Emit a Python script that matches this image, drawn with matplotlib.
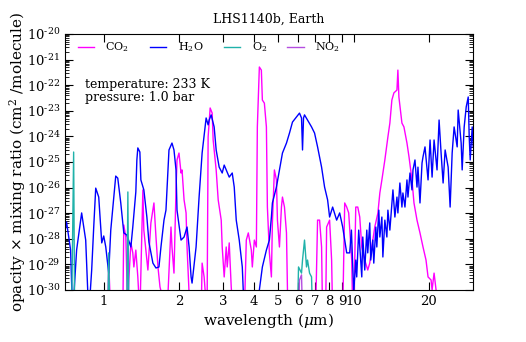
import matplotlib
matplotlib.use('Agg')
import matplotlib.pyplot as plt
import numpy as np
from matplotlib.ticker import LogLocator, FixedLocator, FixedFormatter, NullLocator, FuncFormatter

plt.rcParams['font.family'] = 'DejaVu Serif'
plt.rcParams['mathtext.fontset'] = 'dejavuserif'

# values: wavelength (micron), log10 of opacity x mixing ratio
h2o_wl = [0.691, 0.710, 0.737, 0.751, 0.779, 0.816, 0.847, 0.871, 0.895, 0.912,
          0.929, 0.955, 0.982, 1.000, 1.019, 1.047, 1.067, 1.117, 1.138, 1.170,
          1.203, 1.237, 1.284, 1.307, 1.344, 1.357, 1.369, 1.395, 1.408, 1.447,
          1.488, 1.516, 1.573, 1.618, 1.663, 1.694, 1.742, 1.774, 1.824, 1.875,
          1.910, 1.946, 1.964, 2.038, 2.096, 2.154, 2.195, 2.236, 2.256, 2.341,
          2.407, 2.475, 2.568, 2.616, 2.641, 2.690, 2.765, 2.817, 2.896, 2.978,
          3.033, 3.090, 3.177, 3.266, 3.327, 3.389, 3.484, 3.583, 3.650, 4.116,
          4.193, 4.311, 4.474, 4.599, 4.685, 4.728, 4.907, 5.045, 5.187, 5.383,
          5.534, 5.689, 5.903, 6.069, 6.183, 6.240, 6.298, 6.356, 6.535, 6.781,
          6.972, 7.168, 7.437, 7.646, 7.862, 8.008, 8.235, 8.545, 8.786, 9.034,
          9.374, 9.637, 9.790, 10.00, 10.19, 10.28, 10.47, 10.64, 10.77, 10.87,
          11.07, 11.28, 11.38, 11.59, 11.70, 11.92, 12.03, 12.26, 12.37, 12.60,
          12.72, 12.96, 13.08, 13.32, 13.57, 13.70, 13.95, 14.21, 14.35, 14.61,
          14.89, 15.02, 15.30, 15.59, 15.73, 16.03, 16.33, 16.48, 16.79, 17.10,
          17.26, 17.58, 17.91, 18.07, 18.41, 18.76, 18.93, 19.28, 19.83, 20.20,
          20.58, 20.96, 21.54, 21.95, 22.36, 22.78, 23.21, 23.86, 24.30, 24.76,
          25.21, 25.93, 26.17, 26.90, 27.15, 27.66, 28.18, 28.71, 28.97, 29.24,
          29.78, 30.06]
h2o_log = [-28.05, -27.34, -28.44, -31.0, -28.44, -26.99, -28.05, -31.0, -29.22, -27.54,
           -26.02, -26.37, -28.16, -27.89, -28.32, -29.34, -27.66, -25.55, -25.63, -26.60,
           -27.77, -27.85, -28.32, -27.54, -26.17, -24.92, -24.45, -24.61, -25.70, -26.09,
           -27.15, -28.13, -28.95, -29.14, -29.10, -28.32, -27.27, -26.88, -24.53, -24.26,
           -24.53, -25.31, -26.88, -28.05, -27.93, -27.54, -28.32, -29.49, -29.73, -28.32,
           -26.37, -24.65, -23.28, -23.55, -23.36, -23.16, -23.63, -24.53, -25.20, -25.43,
           -25.12, -25.31, -25.59, -25.43, -25.98, -27.27, -28.05, -29.10, -31.0, -31.0,
           -30.0, -29.10, -28.44, -28.05, -27.15, -26.60, -25.98, -25.31, -24.65, -24.26,
           -23.87, -23.44, -23.24, -23.09, -23.28, -24.53, -23.28, -23.16, -23.36, -23.63,
           -23.87, -24.41, -25.20, -25.98, -26.48, -27.15, -26.76, -27.27, -26.99, -27.54,
           -28.55, -28.55, -27.66, -30.10, -28.83, -29.49, -27.66, -28.71, -29.49, -27.93,
           -29.22, -27.66, -28.55, -27.38, -28.83, -28.05, -28.95, -27.54, -28.32, -26.88,
           -27.93, -27.15, -28.71, -27.27, -27.93, -26.88, -27.66, -26.60, -26.09, -27.15,
           -26.37, -26.99, -25.82, -26.76, -26.21, -26.76, -25.70, -26.37, -25.43, -26.09,
           -25.31, -24.92, -25.98, -25.20, -26.60, -25.04, -24.80, -24.41, -25.70, -24.14,
           -25.59, -24.14, -25.31, -23.36, -24.65, -25.82, -24.53, -25.20, -26.76, -24.65,
           -23.63, -24.41, -22.97, -24.26, -25.31, -23.63, -22.85, -22.46, -24.02, -24.92,
           -23.63, -24.41]

co2_wl = [1.038, 1.047, 1.067, 1.192, 1.203, 1.226, 1.248, 1.260, 1.284, 1.307,
          1.320, 1.344, 1.369, 1.395, 1.434, 1.447, 1.475, 1.502, 1.544, 1.588,
          1.618, 1.648, 1.679, 1.791, 1.858, 1.875, 1.910, 1.946, 1.964, 2.000,
          2.038, 2.057, 2.096, 2.135, 2.154, 2.215, 2.453, 2.475, 2.521, 2.590,
          2.616, 2.665, 2.715, 2.740, 2.817, 2.870, 2.951, 2.978, 3.033, 3.090,
          3.119, 3.177, 3.236, 3.297, 3.650, 3.718, 3.787, 3.894, 3.930, 4.004,
          4.079, 4.116, 4.193, 4.271, 4.311, 4.391, 4.474, 4.515, 4.599, 4.685,
          4.728, 4.816, 4.907, 4.953, 5.045, 5.139, 5.187, 5.284, 5.383, 5.432,
          5.480, 7.037, 7.168, 7.302, 7.437, 7.507, 7.720, 7.791, 8.008, 8.158,
          8.235, 9.034, 9.203, 9.374, 9.548, 9.817, 9.908, 10.00, 10.19, 10.38,
          10.57, 10.77, 11.07, 11.38, 11.59, 11.81, 12.14, 12.49, 12.72, 12.96,
          13.32, 13.70, 13.95, 14.21, 14.48, 14.89, 15.02, 15.16, 15.59, 15.88,
          16.33, 16.64, 17.10, 17.42, 17.91, 18.41, 18.93, 19.46, 19.83, 20.39,
          20.58, 20.96, 21.35, 21.54]
co2_log = [-31.0, -28.91, -31.0, -31.0, -27.46, -27.93, -31.0, -29.61, -28.16, -28.55,
           -29.10, -28.44, -29.49, -31.0, -26.09, -27.66, -28.44, -29.22, -27.38, -26.60,
           -27.93, -29.10, -29.88, -31.0, -27.54, -28.32, -29.34, -26.09, -24.92, -24.65,
           -25.43, -25.31, -26.48, -26.99, -28.32, -31.0, -31.0, -28.95, -29.49, -31.0,
           -24.02, -22.89, -23.09, -24.14, -25.31, -26.48, -27.27, -28.32, -29.49, -28.32,
           -29.10, -28.16, -29.88, -31.0, -31.0, -28.05, -27.77, -28.44, -29.10, -28.05,
           -28.32, -23.63, -21.29, -21.41, -22.58, -22.70, -23.63, -26.76, -28.55, -29.49,
           -27.38, -25.31, -25.70, -27.27, -28.32, -26.76, -26.37, -26.76, -27.77, -30.0,
           -31.0, -31.0, -27.27, -27.27, -28.32, -31.0, -31.0, -27.54, -27.27, -28.83,
           -31.0, -31.0, -26.60, -26.76, -26.99, -28.83, -31.0, -31.0, -26.76, -26.76,
           -27.15, -28.32, -28.83, -29.22, -28.95, -28.32, -27.54, -27.00, -26.21, -25.70,
           -24.92, -24.02, -23.48, -22.58, -22.30, -22.19, -21.41, -22.46, -23.48, -23.63,
           -24.26, -24.80, -25.70, -26.60, -27.27, -27.77, -28.32, -28.83, -29.49, -29.61,
           -30.0, -29.34, -30.0, -31.0]

o2_wl = [0.744, 0.758, 0.765, 1.038, 1.047, 1.057, 1.237, 1.249, 1.260,
         5.958, 6.014, 6.183, 6.240, 6.356, 6.474, 6.535, 6.658, 6.781, 6.844]
o2_log = [-31.0, -24.61, -31.0, -31.0, -28.55, -31.0, -31.0, -26.17, -31.0,
          -31.0, -29.10, -29.34, -28.83, -28.05, -29.10, -28.83, -29.34, -29.49, -31.0]

no2_wl = [6.014, 6.069, 6.183, 6.240]
no2_log = [-31.0, -29.61, -29.41, -31.0]

species = ['CO$_2$', 'H$_2$O', 'O$_2$', 'NO$_2$']
colors = ['#ff00ff', '#0000ff', '#20b2aa', '#b44ee0']
series = [(co2_wl, co2_log), (h2o_wl, h2o_log), (o2_wl, o2_log), (no2_wl, no2_log)]

x_ticks = [1, 2, 3, 4, 5, 6, 7, 8, 9, 10, 20]
x_labels = ['1', '2', '3', '4', '5', '6', '7', '8', '9', '10', '20']


def pow_label(v, pos):
    # short hyphen in the exponent, as in the reference
    e = int(round(np.log10(v)))
    return r'$10^{\text{-}%d}$' % abs(e) if e < 0 else r'$10^{%d}$' % e


fig = plt.figure(figsize=(5.26, 3.42), dpi=100)
ax = fig.add_axes([65 / 526, 52 / 342, 408 / 526, 256 / 342])

for name, col, (wl, lg) in zip(species, colors, series):
    ax.plot(wl, 10.0 ** np.array(lg), color=col, lw=1.0, label=name)

ax.set_xscale('log')
ax.set_yscale('log')
ax.set_xlim(0.7, 30)
ax.set_ylim(1e-30, 1e-20)

ax.xaxis.set_major_locator(FixedLocator(x_ticks))
ax.xaxis.set_major_formatter(FixedFormatter(x_labels))
ax.xaxis.set_minor_locator(NullLocator())
ax.yaxis.set_major_locator(LogLocator(base=10, numticks=12))
ax.yaxis.set_minor_locator(LogLocator(base=10, subs=np.arange(2, 10), numticks=12))
ax.yaxis.set_major_formatter(FuncFormatter(pow_label))

ax.tick_params(which='both', direction='in', top=True, right=True, labelsize=9.5)
ax.tick_params(which='major', length=6)
ax.tick_params(which='minor', length=3)

ax.set_xlabel(r'wavelength ($\mu$m)', fontsize=11, labelpad=2)
ax.set_ylabel(r'opacity $\times$ mixing ratio (cm$^2$ /molecule)', fontsize=11)
ax.yaxis.set_label_coords(-0.09, 0.5)
ax.set_title('LHS1140b, Earth', fontsize=9, pad=8)

ax.text(0.05, 0.83, 'temperature: 233 K\npressure: 1.0 bar', transform=ax.transAxes,
        fontsize=9, va='top', linespacing=1.05)

ax.legend(loc='upper left', bbox_to_anchor=(0.031, 0.975), ncol=4, frameon=False,
          fontsize=8, handlelength=1.45, columnspacing=1.85, borderaxespad=0,
          borderpad=0, handletextpad=1.05)

fig.savefig('out.png', dpi=100)
